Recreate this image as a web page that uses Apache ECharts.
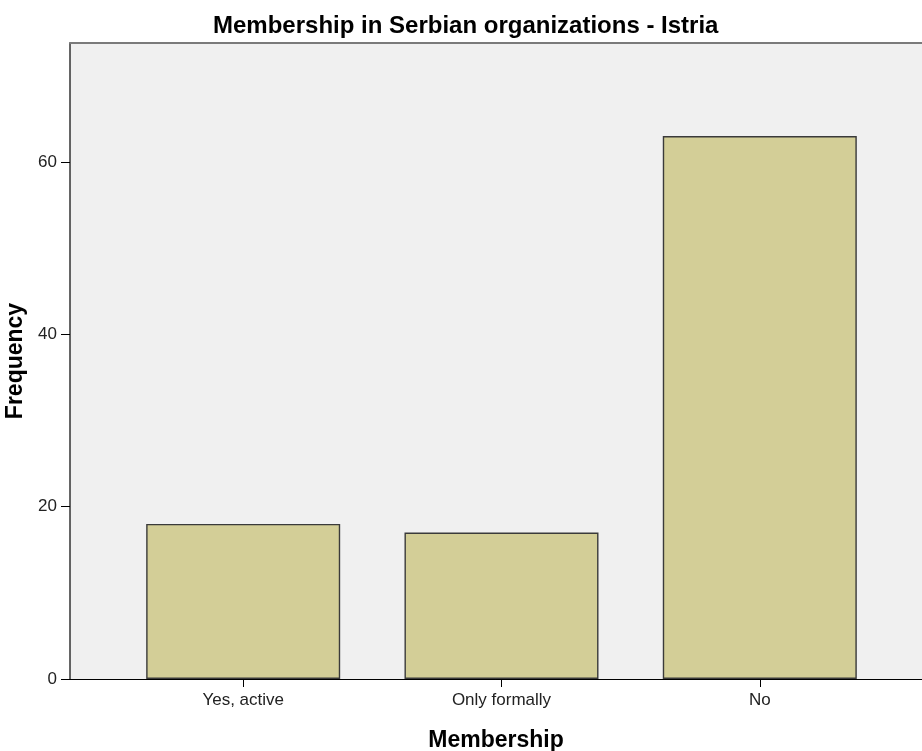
<!DOCTYPE html>
<html>
<head>
<meta charset="utf-8">
<script src="https://cdn.jsdelivr.net/npm/echarts@6/dist/echarts.min.js"></script>
<style>
  html, body { margin: 0; padding: 0; background: #fff; }
  #main { width: 922px; height: 751px; }
</style>
</head>
<body>
<div id="main"></div>
<script>
// data
var categories = ['Yes, active', 'Only formally', 'No'];
var frequency = [18, 17, 63];
var yTicks = [0, 20, 40, 60];

var chart = echarts.init(document.getElementById('main'));

var font = 'Arial, "Liberation Sans", sans-serif';

chart.setOption({
    animation: false,
    backgroundColor: '#fff',
    title: {
        text: 'Membership in Serbian organizations - Istria',
        left: 208,
        top: 9,
        textStyle: { fontFamily: font, fontSize: 24, fontWeight: 'bold', color: '#000' }
    },
    grid: {
        left: 70,
        right: 0,
        top: 43,
        bottom: 72,
        outerBoundsMode: 'none',
        containLabel: false,
        show: true,
        backgroundColor: '#f0f0f0',
        borderWidth: 0
    },
    xAxis: [{
        type: 'value',
        min: 0.3295,
        max: 3.628,
        name: 'Membership',
        nameLocation: 'middle',
        nameGap: 50,
        nameTextStyle: { fontFamily: font, fontSize: 23, fontWeight: 'bold', color: '#000' },
        axisLine: { show: true, lineStyle: { color: '#000', width: 1 } },
        axisTick: { show: true, customValues: [1, 2, 3], length: 8, lineStyle: { color: '#000' } },
        axisLabel: {
            customValues: [1, 2, 3],
            formatter: function (v) { return categories[Math.round(v) - 1]; },
            fontFamily: font, fontSize: 17, color: '#222', margin: 13
        },
        splitLine: { show: false }
    }, {
        // top edge of the plot frame
        type: 'value',
        position: 'top',
        min: 0.3295,
        max: 3.628,
        axisLine: { show: true, lineStyle: { color: '#7a7a7a', width: 2 } },
        axisTick: { show: false },
        axisLabel: { show: false },
        splitLine: { show: false }
    }],
    yAxis: {
        type: 'value',
        min: 0,
        max: 73.8,
        name: 'Frequency',
        nameLocation: 'middle',
        nameGap: 37,
        nameTextStyle: { fontFamily: font, fontSize: 23, fontWeight: 'bold', color: '#000' },
        axisLine: { show: true, lineStyle: { color: '#333', width: 1.5 } },
        axisTick: { show: true, customValues: yTicks, length: 9, lineStyle: { color: '#000' } },
        axisLabel: { customValues: yTicks, fontFamily: font, fontSize: 17, color: '#222', margin: 13 },
        splitLine: { show: false }
    },
    series: [{
        type: 'bar',
        barWidth: 194,
        data: frequency.map(function (v, i) { return [i + 1, v]; }),
        itemStyle: { color: '#d3ce97', borderColor: '#3a3a3a', borderWidth: 1.4 }
    }]
});
</script>
</body>
</html>
